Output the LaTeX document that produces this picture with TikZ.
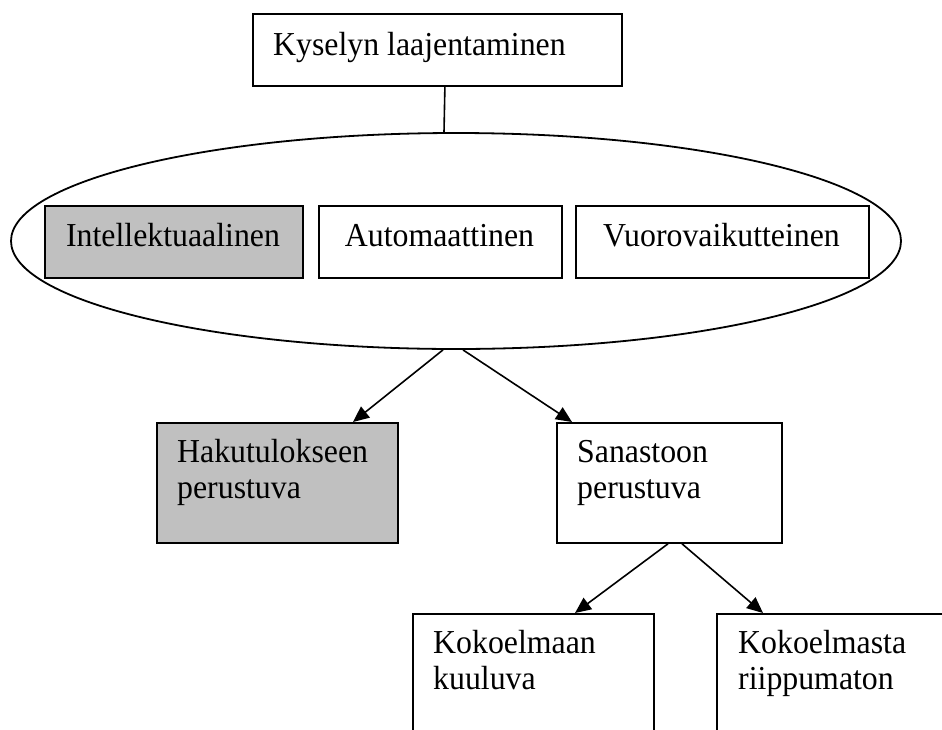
\documentclass[tikz,border=0pt]{standalone}
\usepackage{fontspec}
\setmainfont[FakeStretch=0.95]{Liberation Serif}
\usetikzlibrary{arrows.meta,shapes.geometric}
\definecolor{boxgrey}{HTML}{C0C0C0}
\begin{document}
\begin{tikzpicture}[x=1pt,y=-1pt,
  box/.style={draw=black,line width=1.8pt,fill=white,rectangle,inner sep=0pt,anchor=north west},
  greybox/.style={box,fill=boxgrey},
  lbl/.style={font=\fontsize{33.5}{36}\selectfont,inner sep=0pt,align=left,anchor=base west},
  clbl/.style={font=\fontsize{33.5}{36}\selectfont,inner sep=0pt,anchor=base},
  conn/.style={line width=1.6pt},
  arr/.style={conn,-{Triangle[length=16pt,width=14pt]}}]
\useasboundingbox (0,0) rectangle (942,729);
\clip (0,0) rectangle (942,729);
\fill[white] (0,0) rectangle (942,729);

% top box
\node[box,minimum width=369pt,minimum height=72pt] (top) at (252,13) {};
\node[lbl] (toptxt) at (273,55) {Kyselyn laajentaminen};

% ellipse with three boxes
\node[draw=black,line width=1.8pt,ellipse,inner sep=0pt,minimum width=890pt,minimum height=216pt] (ell) at (456,241) {};
\node[greybox,minimum width=258pt,minimum height=72pt] (int) at (44,205) {};
\node[box,minimum width=243pt,minimum height=72pt] (aut) at (318,205) {};
\node[box,minimum width=293pt,minimum height=72pt] (vuo) at (575,205) {};
\node[clbl] (inttxt) at (173,246) {Intellektuaalinen};
\node[clbl] (auttxt) at (439.5,246) {Automaattinen};
\node[clbl] (vuotxt) at (721.5,246) {Vuorovaikutteinen};

% second level
\node[greybox,minimum width=241pt,minimum height=120pt] (hak) at (156,422) {};
\node[box,minimum width=225pt,minimum height=120pt] (san) at (556,422) {};
\node[lbl] (haktxt) at (177,498) {Hakutulokseen\\perustuva};
\node[lbl] (santxt) at (577,498) {Sanastoon\\perustuva};

% third level (cut by the page edge)
\node[box,minimum width=241pt,minimum height=160pt] (kom) at (412,613) {};
\node[box,minimum width=260pt,minimum height=160pt] (kms) at (716,613) {};
\node[lbl] (komtxt) at (433,689) {Kokoelmaan\\kuuluva};
\node[lbl] (kmstxt) at (738,689) {Kokoelmasta\\riippumaton};

% connectors
\draw[conn] ([xshift=7.5pt]top.south) -- ([xshift=-12pt]ell.north);
\draw[arr] ([xshift=-13pt]ell.south) -- ([xshift=197pt]hak.north west);
\draw[arr] ([xshift=7pt]ell.south) -- ([xshift=16pt]san.north west);
\draw[arr] ([xshift=112pt]san.south west) -- ([xshift=163pt]kom.north west);
\draw[arr] ([xshift=126pt]san.south west) -- ([xshift=47pt]kms.north west);
\end{tikzpicture}
\end{document}
